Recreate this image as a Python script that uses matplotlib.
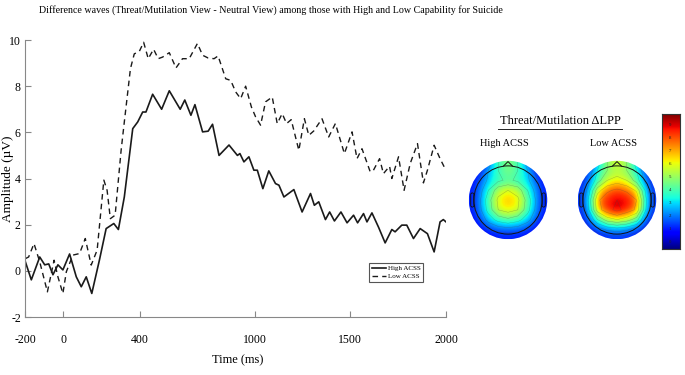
import numpy as np
import matplotlib
matplotlib.use('Agg')
from matplotlib import pyplot as plt
from matplotlib.patches import Circle, Polygon, FancyBboxPatch
from matplotlib.lines import Line2D

plt.rcParams['font.family'] = ['Liberation Serif', 'DejaVu Serif']
plt.rcParams['axes.unicode_minus'] = False

# difference waves (ms, microvolts)
high_t = [-198, -167, -123, -97, -76, -54, -28, -2, 33, 68, 94, 120, 149, 189, 224,
          264, 288, 319, 363, 389, 415, 432, 467, 514, 554, 611, 635, 667, 688, 728,
          757, 780, 814, 866, 910, 923, 944, 970, 996, 1014, 1043, 1074, 1109, 1127,
          1153, 1205, 1248, 1292, 1312, 1335, 1370, 1392, 1417, 1451, 1483, 1517,
          1538, 1569, 1587, 1613, 1648, 1682, 1717, 1734, 1769, 1795, 1830, 1865,
          1903, 1938, 1969, 1986, 2000]
high_v = [0.39, -0.39, 0.6, 0.26, 0.3, -0.17, 0.26, 0.04, 0.73, -0.26, -0.69, -0.26,
          -0.98, 0.47, 1.83, 2.05, 1.79, 3.2, 6.16, 6.45, 6.88, 6.88, 7.65, 7.0, 7.8,
          7.0, 7.4, 6.74, 7.2, 6.02, 6.05, 6.35, 5.0, 5.45, 5.0, 5.08, 4.72, 4.94,
          4.36, 4.36, 3.56, 4.33, 3.78, 3.71, 3.2, 3.52, 2.55, 3.35, 2.84, 2.99, 2.22,
          2.55, 2.16, 2.55, 2.08, 2.41, 2.08, 2.48, 2.12, 2.51, 1.88, 1.21, 1.79,
          1.69, 1.98, 1.98, 1.4, 1.83, 1.61, 0.82, 2.12, 2.22, 2.12]

low_t = [-198, -181, -153, -123, -83, -48, -28, -2, 16, 50, 85, 115, 146, 177, 212,
         229, 246, 271, 302, 319, 351, 371, 397, 420, 444, 472, 496, 519, 554, 589,
         623, 658, 701, 728, 757, 788, 809, 849, 875, 901, 927, 953, 983, 1005, 1031,
         1057, 1092, 1118, 1144, 1167, 1191, 1231, 1260, 1283, 1309, 1352, 1387,
         1422, 1448, 1469, 1509, 1535, 1561, 1604, 1621, 1653, 1673, 1705, 1717,
         1752, 1781, 1813, 1851, 1882, 1903, 1938, 1969, 1995]
low_v = [0.53, 0.6, 1.18, 0.39, -0.91, 0.46, -0.26, -0.98, -0.04, 0.68, 0.75, 1.4,
         0.25, 0.9, 3.93, 3.49, 2.26, 2.41, 5.2, 6.45, 8.76, 9.4, 9.5, 9.9, 9.19, 9.6,
         9.19, 9.26, 9.45, 8.79, 9.19, 9.19, 9.85, 9.34, 9.22, 9.19, 9.31, 8.32, 8.25,
         7.75, 7.46, 8.0, 7.1, 6.67, 6.31, 7.32, 7.53, 6.38, 6.81, 6.38, 6.55, 5.22,
         6.59, 5.87, 6.06, 6.59, 5.8, 6.38, 5.66, 5.08, 6.02, 4.86, 5.29, 4.29, 4.36,
         4.86, 4.21, 4.53, 4.0, 4.94, 3.49, 4.65, 5.51, 3.81, 4.36, 5.44, 4.86, 4.43]

# scalp maps (rows front -> back, columns left -> right)
high_map = np.array([
    [0.3, 0.8, 2.5, 4.0, 4.8, 4.0, 2.5, 0.8, 0.3],
    [0.5, 1.5, 3.0, 4.0, 4.5, 4.0, 3.0, 1.5, 0.5],
    [0.8, 2.0, 3.2, 3.8, 4.2, 3.8, 3.2, 2.0, 0.8],
    [1.0, 2.4, 4.0, 5.6, 6.0, 5.6, 4.0, 2.4, 1.0],
    [1.0, 2.6, 4.6, 6.2, 6.8, 6.2, 4.6, 2.6, 1.0],
    [1.0, 2.5, 4.4, 6.0, 6.4, 6.0, 4.4, 2.5, 1.0],
    [0.8, 2.0, 3.4, 4.4, 4.8, 4.4, 3.4, 2.0, 0.8],
    [0.5, 1.2, 2.0, 2.4, 2.6, 2.4, 2.0, 1.2, 0.5],
    [0.2, 0.5, 0.8, 1.0, 1.0, 1.0, 0.8, 0.5, 0.2]])
low_map = np.array([
    [0.5, 1.2, 3.5, 5.0, 5.8, 5.0, 3.5, 1.2, 0.5],
    [0.8, 2.0, 4.0, 5.0, 5.3, 5.0, 4.0, 2.0, 0.8],
    [1.0, 2.5, 4.5, 6.0, 6.5, 6.0, 4.5, 2.5, 1.0],
    [1.2, 3.2, 6.5, 7.8, 8.2, 7.8, 6.8, 3.5, 1.2],
    [1.2, 3.8, 7.8, 8.6, 9.0, 8.8, 8.0, 4.0, 1.2],
    [1.2, 3.5, 7.5, 8.6, 9.3, 8.6, 7.8, 3.8, 1.2],
    [1.0, 2.5, 5.0, 6.5, 7.0, 6.5, 5.5, 2.5, 1.0],
    [0.6, 1.5, 2.5, 3.2, 3.5, 3.2, 2.5, 1.5, 0.6],
    [0.2, 0.6, 1.0, 1.2, 1.3, 1.2, 1.0, 0.6, 0.2]])
cbar_ticks = list(range(10))

fig = plt.figure(figsize=(6.85, 3.75), dpi=100)

ax = fig.add_axes([25 / 685, 1 - 317 / 375, 421 / 685, 277 / 375])
ax.plot(high_t, high_v, color='#1a1a1a', lw=1.2, label='High ACSS')
ax.plot(low_t, low_v, color='#1a1a1a', lw=1.0, ls=(0, (4, 3)), label='Low ACSS')
ax.set_xlim(-200, 2000)
ax.set_ylim(-2, 10)
ax.set_xticks([-200, 0, 400, 1000, 1500, 2000])
ax.set_yticks([-2, 0, 2, 4, 6, 8, 10])
ax.tick_params(direction='in', length=4, color='#888888', labelsize=8.5)
ax.tick_params(axis='x', pad=12)
ax.tick_params(axis='y', pad=3)
for s in ['top', 'right']:
    ax.spines[s].set_visible(False)
for s in ['left', 'bottom']:
    ax.spines[s].set_color('#888888')
ax.set_xlabel('Time (ms)', fontsize=9)
ax.xaxis.set_label_coords(0.506, -0.135)
ax.set_ylabel('Amplitude (\u00b5V)', fontsize=9.5)
ax.yaxis.set_label_coords(-0.026, 0.5)
leg = ax.legend(loc='center', bbox_to_anchor=(0.882, 0.161), fontsize=5,
                fancybox=False, framealpha=1, edgecolor='#555555', handlelength=2.0,
                handletextpad=0.3, borderpad=0.4, labelspacing=0.3)
leg.get_frame().set_linewidth(0.8)

fig.text(0.395, 0.972, 'Difference waves (Threat/Mutilation View - Neutral View) among those '
         'with High and Low Capability for Suicide', ha='center', va='center', fontsize=7.2)

# scalp maps
vmin, vmax = -0.6, 9.85
for cx, cy, data, name in [(508, 200, high_map, 'High ACSS'), (617, 200, low_map, 'Low ACSS')]:
    r = 40
    hax = fig.add_axes([(cx - r) / 685, 1 - (cy + r) / 375, 2 * r / 685, 2 * r / 375])
    hax.set_xlim(-1.02, 1.02)
    hax.set_ylim(-1.02, 1.02)
    hax.axis('off')
    disc = Circle((0, 0), 1.0, transform=hax.transData)
    im = hax.imshow(data, extent=[-1, 1, -1, 1], cmap='jet', vmin=vmin, vmax=vmax,
                    interpolation='bicubic', origin='upper')
    im.set_clip_path(disc)
    xs = np.linspace(-1, 1, data.shape[1])
    ys = np.linspace(1, -1, data.shape[0])
    cs = hax.contour(xs, ys, data, levels=np.arange(1, 10), colors='#444444',
                     linewidths=0.3, alpha=0.4)
    cs.set_clip_path(disc)
    hax.add_patch(Circle((0, 0), 0.87, fill=False, ec='#111111', lw=0.7))
    hax.add_patch(Polygon([[-0.12, 0.86], [0, 0.98], [0.12, 0.86]], closed=False,
                          fill=False, ec='#111111', lw=0.7))
    for sx in (-1, 1):
        hax.add_patch(FancyBboxPatch((sx * 0.91 - 0.04, -0.18), 0.08, 0.36,
                                     boxstyle='round,pad=0.0,rounding_size=0.04',
                                     fill=False, ec='#111111', lw=0.6))
    fig.text((cx - 4) / 685, 1 - 143 / 375, name, ha='center', va='center', fontsize=7.5)

fig.text(560 / 685, 1 - 121 / 375, 'Threat/Mutilation \u0394LPP', ha='center', va='center',
         fontsize=9)
fig.add_artist(Line2D([498 / 685, 622 / 685], [1 - 128.5 / 375, 1 - 128.5 / 375],
                      color='#222222', lw=0.7))

cax = fig.add_axes([662 / 685, 1 - 249 / 375, 18 / 685, 135 / 375])
grad = np.linspace(vmin, vmax, 256).reshape(-1, 1)
cax.imshow(grad, cmap='jet', vmin=vmin, vmax=vmax, aspect='auto', origin='lower',
           extent=[0, 1, vmin, vmax])
cax.set_xticks([])
cax.yaxis.tick_right()
cax.set_yticks(cbar_ticks)
cax.tick_params(axis='y', length=0, pad=-8, labelsize=3.5, labelcolor='#222222')
for s in cax.spines.values():
    s.set_linewidth(0.8)
    s.set_color('#333333')

fig.savefig('out.png', dpi=100)
